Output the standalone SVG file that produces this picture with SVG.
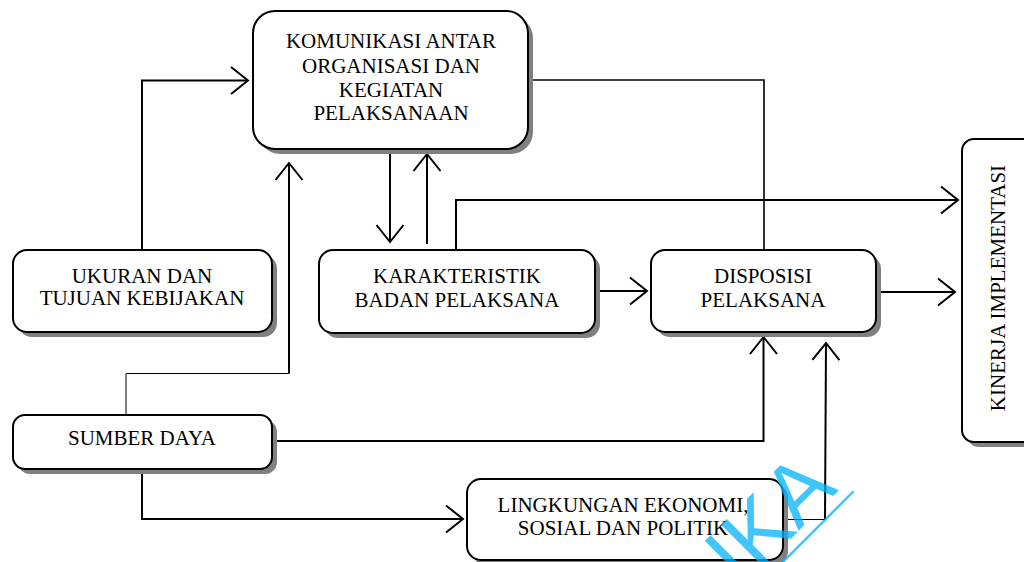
<svg xmlns="http://www.w3.org/2000/svg" width="1024" height="562" viewBox="0 0 1024 562">
  <style>
    .box { fill: #ffffff; stroke: #000000; stroke-width: 2; }
    .shadow { fill: #808080; stroke: none; }
    .label { font-family: "Liberation Serif", "Times New Roman", serif; font-size: 21px; fill: #000000; text-anchor: middle; }
    .wire { fill: none; stroke: #000000; stroke-width: 2; }
    .thin { fill: none; stroke: #000000; stroke-width: 1; }
    .mid { fill: none; stroke: #000000; stroke-width: 1.6; }
    .mark { font-family: "Liberation Sans", Arial, sans-serif; font-size: 86px; fill: #00b2ff; fill-opacity: 0.75; }
  </style>
  <defs>
    <marker id="arrow" markerUnits="userSpaceOnUse" markerWidth="40" markerHeight="40" refX="0" refY="0" orient="auto" viewBox="-20 -20 40 40" overflow="visible">
      <path d="M-17,-13.5 L0,0 L-17,13.5" fill="none" stroke="#000000" stroke-width="2"/>
    </marker>
  </defs>

  <rect width="1024" height="562" fill="#ffffff"/>

  <!-- connectors -->
  <g id="connectors">
    <path class="wire" d="M142,250 V80.5 H248" marker-end="url(#arrow)"/>
    <path class="thin" d="M126,415 V373.5 H289"/>
    <path class="wire" d="M289,373.5 V163" marker-end="url(#arrow)"/>
    <path class="wire" d="M390,150 V242" marker-end="url(#arrow)"/>
    <path class="wire" d="M427,244 V154" marker-end="url(#arrow)"/>
    <path class="wire" d="M456,250 V200 H958" marker-end="url(#arrow)"/>
    <path class="mid" d="M528,80 H764 V250"/>
    <path class="wire" d="M595,291 H647" marker-end="url(#arrow)"/>
    <path class="wire" d="M877,292 H955" marker-end="url(#arrow)"/>
    <path class="wire" d="M272,441 H763.5 V337" marker-end="url(#arrow)"/>
    <path class="wire" d="M142,469 V519 H463" marker-end="url(#arrow)"/>
    <path class="thin" d="M779,519.5 H825"/>
    <path class="wire" d="M825,519.5 L826,343" marker-end="url(#arrow)"/>
  </g>

  <!-- nodes -->
  <g id="komunikasi">
    <rect class="shadow" x="258" y="16" width="275" height="138" rx="22"/>
    <rect class="box" x="253" y="11" width="275" height="138" rx="22"/>
    <text class="label" x="391" y="48">KOMUNIKASI ANTAR</text>
    <text class="label" x="391" y="72.5">ORGANISASI DAN</text>
    <text class="label" x="391" y="97">KEGIATAN</text>
    <text class="label" x="391" y="120">PELAKSANAAN</text>
  </g>

  <g id="ukuran">
    <rect class="shadow" x="18" y="255" width="259" height="82" rx="14"/>
    <rect class="box" x="13" y="250" width="259" height="82" rx="14"/>
    <text class="label" x="142" y="283">UKURAN DAN</text>
    <text class="label" x="142" y="305">TUJUAN KEBIJAKAN</text>
  </g>

  <g id="sumber-daya">
    <rect class="shadow" x="18" y="420" width="259" height="54" rx="12"/>
    <rect class="box" x="13" y="415" width="259" height="54" rx="12"/>
    <text class="label" x="142" y="445">SUMBER DAYA</text>
  </g>

  <g id="karakteristik">
    <rect class="shadow" x="324" y="255" width="276" height="83" rx="14"/>
    <rect class="box" x="319" y="250" width="276" height="83" rx="14"/>
    <text class="label" x="457" y="283">KARAKTERISTIK</text>
    <text class="label" x="457" y="306.5">BADAN PELAKSANA</text>
  </g>

  <g id="disposisi">
    <rect class="shadow" x="656" y="255" width="225" height="82" rx="14"/>
    <rect class="box" x="651" y="250" width="225" height="82" rx="14"/>
    <text class="label" x="763" y="283">DISPOSISI</text>
    <text class="label" x="763" y="306.5">PELAKSANA</text>
  </g>

  <g id="lingkungan">
    <rect class="shadow" x="472" y="484" width="316" height="81" rx="14"/>
    <rect class="box" x="467" y="479" width="316" height="81" rx="14"/>
    <text class="label" x="623" y="512">LINGKUNGAN EKONOMI,</text>
    <text class="label" x="623" y="535">SOSIAL DAN POLITIK</text>
  </g>

  <g id="kinerja">
    <rect class="shadow" x="967" y="144" width="80" height="303" rx="12"/>
    <rect class="box" x="962" y="139" width="80" height="303" rx="12"/>
    <text class="label" transform="translate(1005,288) rotate(-90)" x="0" y="0">KINERJA IMPLEMENTASI</text>
  </g>

  <!-- publisher mark -->
  <g id="mark" transform="rotate(-45)">
    <text class="mark" x="108" y="940">IKA</text>
    <line x1="100" y1="951" x2="256" y2="951" stroke="#00b2ff" stroke-opacity="0.75" stroke-width="2.5"/>
  </g>
</svg>
